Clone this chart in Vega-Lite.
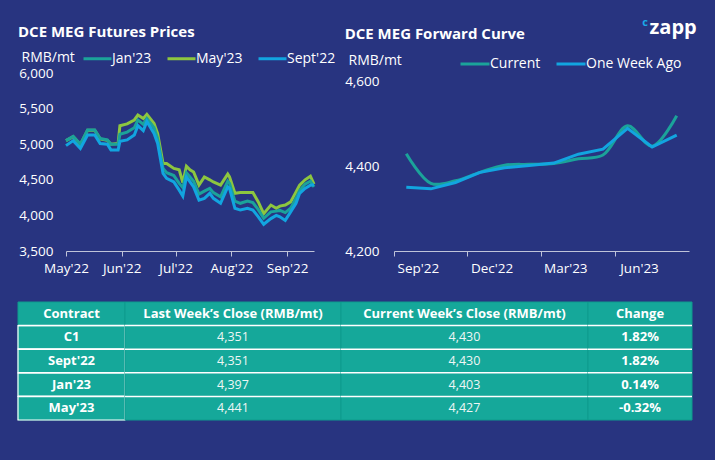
{
"$schema":"https://vega.github.io/schema/vega-lite/v6.json",
"background":"#283480",
"padding":{"left":17,"top":17,"right":20,"bottom":41},
"title":{"text":"zapp","anchor":"end","color":"#FFFFFF","fontSize":20,"fontWeight":"bold","dx":4,"offset":-21},
"datasets":{
"futures":[
{"d":"2022/05/01","s":"Sept'22","v":4980},{"d":"2022/05/01","s":"Jan'23","v":5050},{"d":"2022/05/01","s":"May'23","v":5050},
{"d":"2022/05/05","s":"Sept'22","v":5050},{"d":"2022/05/05","s":"Jan'23","v":5110},{"d":"2022/05/05","s":"May'23","v":5105},
{"d":"2022/05/09","s":"Sept'22","v":4940},{"d":"2022/05/09","s":"Jan'23","v":5000},{"d":"2022/05/09","s":"May'23","v":4995},
{"d":"2022/05/13","s":"Sept'22","v":5130},{"d":"2022/05/13","s":"Jan'23","v":5200},{"d":"2022/05/13","s":"May'23","v":5195},
{"d":"2022/05/17","s":"Sept'22","v":5130},{"d":"2022/05/17","s":"Jan'23","v":5200},{"d":"2022/05/17","s":"May'23","v":5195},
{"d":"2022/05/20","s":"Sept'22","v":5010},{"d":"2022/05/20","s":"Jan'23","v":5080},{"d":"2022/05/20","s":"May'23","v":5075},
{"d":"2022/05/24","s":"Sept'22","v":5000},{"d":"2022/05/24","s":"Jan'23","v":5060},{"d":"2022/05/24","s":"May'23","v":5055},
{"d":"2022/05/26","s":"Sept'22","v":4920},{"d":"2022/05/26","s":"Jan'23","v":5000},{"d":"2022/05/26","s":"May'23","v":5000},
{"d":"2022/05/30","s":"Sept'22","v":4920},{"d":"2022/05/30","s":"Jan'23","v":5000},{"d":"2022/05/30","s":"May'23","v":5010},
{"d":"2022/05/31","s":"Sept'22","v":5040},{"d":"2022/05/31","s":"Jan'23","v":5140},{"d":"2022/05/31","s":"May'23","v":5260},
{"d":"2022/06/04","s":"Sept'22","v":5060},{"d":"2022/06/04","s":"Jan'23","v":5170},{"d":"2022/06/04","s":"May'23","v":5285},
{"d":"2022/06/08","s":"Sept'22","v":5130},{"d":"2022/06/08","s":"Jan'23","v":5230},{"d":"2022/06/08","s":"May'23","v":5340},
{"d":"2022/06/10","s":"Sept'22","v":5260},{"d":"2022/06/10","s":"Jan'23","v":5340},{"d":"2022/06/10","s":"May'23","v":5410},
{"d":"2022/06/13","s":"Sept'22","v":5190},{"d":"2022/06/13","s":"Jan'23","v":5280},{"d":"2022/06/13","s":"May'23","v":5360},
{"d":"2022/06/15","s":"Sept'22","v":5320},{"d":"2022/06/15","s":"Jan'23","v":5360},{"d":"2022/06/15","s":"May'23","v":5420},
{"d":"2022/06/19","s":"Sept'22","v":5150},{"d":"2022/06/19","s":"Jan'23","v":5230},{"d":"2022/06/19","s":"May'23","v":5290},
{"d":"2022/06/21","s":"Sept'22","v":5010},{"d":"2022/06/21","s":"Jan'23","v":5080},{"d":"2022/06/21","s":"May'23","v":5150},
{"d":"2022/06/24","s":"Sept'22","v":4590},{"d":"2022/06/24","s":"Jan'23","v":4660},{"d":"2022/06/24","s":"May'23","v":4730},
{"d":"2022/06/26","s":"Sept'22","v":4520},{"d":"2022/06/26","s":"Jan'23","v":4600},{"d":"2022/06/26","s":"May'23","v":4730},
{"d":"2022/06/30","s":"Sept'22","v":4470},{"d":"2022/06/30","s":"Jan'23","v":4560},{"d":"2022/06/30","s":"May'23","v":4660},
{"d":"2022/07/03","s":"Sept'22","v":4355},{"d":"2022/07/03","s":"Jan'23","v":4450},{"d":"2022/07/03","s":"May'23","v":4640},
{"d":"2022/07/05","s":"Sept'22","v":4270},{"d":"2022/07/05","s":"Jan'23","v":4390},{"d":"2022/07/05","s":"May'23","v":4460},
{"d":"2022/07/07","s":"Sept'22","v":4540},{"d":"2022/07/07","s":"Jan'23","v":4600},{"d":"2022/07/07","s":"May'23","v":4690},
{"d":"2022/07/09","s":"Sept'22","v":4470},{"d":"2022/07/09","s":"Jan'23","v":4540},{"d":"2022/07/09","s":"May'23","v":4640},
{"d":"2022/07/11","s":"Sept'22","v":4400},{"d":"2022/07/11","s":"Jan'23","v":4480},{"d":"2022/07/11","s":"May'23","v":4610},
{"d":"2022/07/14","s":"Sept'22","v":4215},{"d":"2022/07/14","s":"Jan'23","v":4300},{"d":"2022/07/14","s":"May'23","v":4425},
{"d":"2022/07/17","s":"Sept'22","v":4240},{"d":"2022/07/17","s":"Jan'23","v":4340},{"d":"2022/07/17","s":"May'23","v":4540},
{"d":"2022/07/20","s":"Sept'22","v":4310},{"d":"2022/07/20","s":"Jan'23","v":4380},{"d":"2022/07/20","s":"May'23","v":4500},
{"d":"2022/07/22","s":"Sept'22","v":4240},{"d":"2022/07/22","s":"Jan'23","v":4320},{"d":"2022/07/22","s":"May'23","v":4470},
{"d":"2022/07/26","s":"Sept'22","v":4170},{"d":"2022/07/26","s":"Jan'23","v":4260},{"d":"2022/07/26","s":"May'23","v":4425},
{"d":"2022/07/30","s":"Sept'22","v":4400},{"d":"2022/07/30","s":"Jan'23","v":4480},{"d":"2022/07/30","s":"May'23","v":4580},
{"d":"2022/07/31","s":"Sept'22","v":4380},{"d":"2022/07/31","s":"Jan'23","v":4450},{"d":"2022/07/31","s":"May'23","v":4540},
{"d":"2022/08/03","s":"Sept'22","v":4100},{"d":"2022/08/03","s":"Jan'23","v":4200},{"d":"2022/08/03","s":"May'23","v":4310},
{"d":"2022/08/06","s":"Sept'22","v":4075},{"d":"2022/08/06","s":"Jan'23","v":4170},{"d":"2022/08/06","s":"May'23","v":4320},
{"d":"2022/08/10","s":"Sept'22","v":4100},{"d":"2022/08/10","s":"Jan'23","v":4200},{"d":"2022/08/10","s":"May'23","v":4320},
{"d":"2022/08/13","s":"Sept'22","v":4075},{"d":"2022/08/13","s":"Jan'23","v":4180},{"d":"2022/08/13","s":"May'23","v":4320},
{"d":"2022/08/16","s":"Sept'22","v":3980},{"d":"2022/08/16","s":"Jan'23","v":4080},{"d":"2022/08/16","s":"May'23","v":4190},
{"d":"2022/08/19","s":"Sept'22","v":3875},{"d":"2022/08/19","s":"Jan'23","v":3960},{"d":"2022/08/19","s":"May'23","v":4025},
{"d":"2022/08/23","s":"Sept'22","v":3955},{"d":"2022/08/23","s":"Jan'23","v":4050},{"d":"2022/08/23","s":"May'23","v":4145},
{"d":"2022/08/26","s":"Sept'22","v":4000},{"d":"2022/08/26","s":"Jan'23","v":4060},{"d":"2022/08/26","s":"May'23","v":4100},
{"d":"2022/08/28","s":"Sept'22","v":3980},{"d":"2022/08/28","s":"Jan'23","v":4070},{"d":"2022/08/28","s":"May'23","v":4130},
{"d":"2022/08/31","s":"Sept'22","v":3930},{"d":"2022/08/31","s":"Jan'23","v":4040},{"d":"2022/08/31","s":"May'23","v":4145},
{"d":"2022/09/03","s":"Sept'22","v":4050},{"d":"2022/09/03","s":"Jan'23","v":4100},{"d":"2022/09/03","s":"May'23","v":4190},
{"d":"2022/09/06","s":"Sept'22","v":4170},{"d":"2022/09/06","s":"Jan'23","v":4240},{"d":"2022/09/06","s":"May'23","v":4330},
{"d":"2022/09/08","s":"Sept'22","v":4310},{"d":"2022/09/08","s":"Jan'23","v":4350},{"d":"2022/09/08","s":"May'23","v":4425},
{"d":"2022/09/11","s":"Sept'22","v":4380},{"d":"2022/09/11","s":"Jan'23","v":4440},{"d":"2022/09/11","s":"May'23","v":4500},
{"d":"2022/09/14","s":"Sept'22","v":4425},{"d":"2022/09/14","s":"Jan'23","v":4480},{"d":"2022/09/14","s":"May'23","v":4550},
{"d":"2022/09/16","s":"Sept'22","v":4430},{"d":"2022/09/16","s":"Jan'23","v":4400},{"d":"2022/09/16","s":"May'23","v":4440}
],
"curve":[
{"m":"Sep'22","s":"Current","v":4430},{"m":"Oct'22","s":"Current","v":4360},{"m":"Nov'22","s":"Current","v":4366},{"m":"Dec'22","s":"Current","v":4386},
{"m":"Jan'23","s":"Current","v":4403},{"m":"Feb'23","s":"Current","v":4405},{"m":"Mar'23","s":"Current","v":4407},{"m":"Apr'23","s":"Current","v":4418},
{"m":"May'23","s":"Current","v":4427},{"m":"Jun'23","s":"Current","v":4496},{"m":"Jul'23","s":"Current","v":4448},{"m":"Aug'23","s":"Current","v":4520},
{"m":"Sep'22","s":"One Week Ago","v":4351},{"m":"Oct'22","s":"One Week Ago","v":4347},{"m":"Nov'22","s":"One Week Ago","v":4362},{"m":"Dec'22","s":"One Week Ago","v":4386},
{"m":"Jan'23","s":"One Week Ago","v":4397},{"m":"Feb'23","s":"One Week Ago","v":4402},{"m":"Mar'23","s":"One Week Ago","v":4408},{"m":"Apr'23","s":"One Week Ago","v":4429},
{"m":"May'23","s":"One Week Ago","v":4441},{"m":"Jun'23","s":"One Week Ago","v":4490},{"m":"Jul'23","s":"One Week Ago","v":4446},{"m":"Aug'23","s":"One Week Ago","v":4474}
],
"table":[
{"contract":"Contract","last":"Last Week’s Close (RMB/mt)","current":"Current Week’s Close (RMB/mt)","change":"Change"},
{"contract":"C1","last":"4,351","current":"4,430","change":"1.82%"},
{"contract":"Sept'22","last":"4,351","current":"4,430","change":"1.82%"},
{"contract":"Jan'23","last":"4,397","current":"4,403","change":"0.14%"},
{"contract":"May'23","last":"4,441","current":"4,427","change":"-0.32%"}
]
},
"spacing":26,
"vconcat":[
{
"hconcat":[
{
"width":296,"height":178,
"title":{"text":"DCE MEG Futures Prices","offset":3},
"data":{"name":"futures"},
"encoding":{
"x":{"field":"d","type":"temporal","scale":{"domain":[{"year":2022,"month":5,"date":1},{"year":2022,"month":9,"date":16}],"nice":false,"range":[48,296]},
"axis":{"values":[{"year":2022,"month":5,"date":1},{"year":2022,"month":6,"date":1},{"year":2022,"month":7,"date":1},{"year":2022,"month":8,"date":1},{"year":2022,"month":9,"date":1}],"format":"%b'%y","title":null,"tickSize":5,"labelPadding":5,"labelOverlap":false,"labelFlush":false,"labelBound":false}},
"y":{"field":"v","type":"quantitative","scale":{"domain":[3500,6000],"nice":false,"zero":false},
"axis":{"values":[3500,4000,4500,5000,5500,6000],"format":",d","domain":false,"ticks":false,"tickSize":0,"labelPadding":13,"offset":-48,"title":"RMB/mt","titleAngle":0,"titleAlign":"left","titleBaseline":"middle","titleX":-45,"titleY":-16}},
"color":{"field":"s","type":"nominal","scale":{"domain":["Jan'23","May'23","Sept'22"],"range":["#1BA39A","#8DC63F","#12A5E0"]},
"legend":{"orient":"none","legendX":64,"legendY":-30,"direction":"horizontal","title":null,"symbolType":"stroke","symbolSize":784,"symbolStrokeWidth":3,"labelOffset":-1,"columnPadding":9,"padding":0}}
},
"layer":[
{"transform":[{"filter":"datum.s == 'May\\'23'"}],"mark":{"type":"line","strokeWidth":3}},
{"transform":[{"filter":"datum.s == 'Jan\\'23'"}],"mark":{"type":"line","strokeWidth":3}},
{"transform":[{"filter":"datum.s == 'Sept\\'22'"}],"mark":{"type":"line","strokeWidth":3}}
]
},
{
"width":295,"height":178,
"title":{"text":"DCE MEG Forward Curve","offset":6},
"data":{"name":"curve"},
"encoding":{
"x":{"field":"m","type":"ordinal","sort":null,"bandPosition":0.5,
"scale":{"type":"band","domain":["Sep'22","Oct'22","Nov'22","Dec'22","Jan'23","Feb'23","Mar'23","Apr'23","May'23","Jun'23","Jul'23","Aug'23"],"paddingInner":0,"paddingOuter":0},
"axis":{"values":["Sep'22","Dec'22","Mar'23","Jun'23"],"bandPosition":0,"labelOffset":12,"labelAngle":0,"title":null,"tickSize":5,"labelPadding":5}},
"y":{"field":"v","type":"quantitative","scale":{"domain":[4200,4621],"nice":false,"zero":false},
"axis":{"values":[4200,4400,4600],"format":",d","domain":false,"ticks":false,"tickSize":0,"labelPadding":15,"title":"RMB/mt","titleAngle":0,"titleAlign":"left","titleBaseline":"middle","titleX":-46,"titleY":-13}},
"color":{"field":"s","type":"nominal","scale":{"domain":["Current","One Week Ago"],"range":["#1BA39A","#12A5E0"]},
"legend":{"orient":"none","legendX":65,"legendY":-25,"direction":"horizontal","title":null,"symbolType":"stroke","symbolSize":841,"symbolStrokeWidth":3,"labelOffset":-1,"columnPadding":9,"padding":0}}
},
"layer":[
{"transform":[{"filter":"datum.s == 'Current'"}],"mark":{"type":"line","strokeWidth":3,"interpolate":"catmull-rom"}},
{"transform":[{"filter":"datum.s == 'One Week Ago'"}],"mark":{"type":"line","strokeWidth":3}}
]
}
],
"spacing":80,
"bounds":"flush",
"resolve":{"scale":{"color":"independent"},"legend":{"color":"independent"}},
"title":{"text":"c","anchor":"end","color":"#1AA8E8","fontSize":11,"fontWeight":"bold","dx":-41,"offset":-3}
},
{
"hconcat":[
{
"width":107,"height":118,
"data":{"name":"table"},
"encoding":{"y":{"field":"contract","type":"nominal","sort":null,"axis":null,"scale":{"domain":["Contract","C1","Sept'22","Jan'23","May'23"],"paddingInner":0,"paddingOuter":0}}},
"layer":[
{"mark":{"type":"rect","fill":"#15A89A","stroke":"#0F9A8D","strokeWidth":1}},
{"transform":[{"filter":"datum.contract != 'Contract'"}],"mark":{"type":"rect","fill":"#15A89A","stroke":"#FFFFFF","strokeWidth":1.2}},
{"transform":[{"filter":"datum.contract != 'Contract'"}],"mark":{"type":"rule","color":"#FFFFFF","strokeWidth":1.5},"encoding":{"y":{"field":"contract","type":"nominal","sort":null,"bandPosition":0}}},
{"mark":{"type":"text","color":"#FFFFFF","fontWeight":"bold","fontSize":13},"encoding":{"text":{"field":"contract"}}}
]
},
{
"width":216,"height":118,
"data":{"name":"table"},
"encoding":{"y":{"field":"contract","type":"nominal","sort":null,"axis":null,"scale":{"domain":["Contract","C1","Sept'22","Jan'23","May'23"],"paddingInner":0,"paddingOuter":0}}},
"layer":[
{"mark":{"type":"rect","fill":"#15A89A","stroke":"#0F9A8D","strokeWidth":1}},
{"transform":[{"filter":"datum.contract != 'Contract'"}],"mark":{"type":"rule","color":"#FFFFFF","strokeWidth":1.5},"encoding":{"y":{"field":"contract","type":"nominal","sort":null,"bandPosition":0}}},
{"transform":[{"filter":"datum.contract == 'Contract'"}],"mark":{"type":"text","color":"#FFFFFF","fontWeight":"bold","fontSize":13},"encoding":{"text":{"field":"last"}}},
{"transform":[{"filter":"datum.contract != 'Contract'"}],"mark":{"type":"text","color":"#EEF6F5","fontSize":12.5},"encoding":{"text":{"field":"last"}}}
]
},
{
"width":247,"height":118,
"data":{"name":"table"},
"encoding":{"y":{"field":"contract","type":"nominal","sort":null,"axis":null,"scale":{"domain":["Contract","C1","Sept'22","Jan'23","May'23"],"paddingInner":0,"paddingOuter":0}}},
"layer":[
{"mark":{"type":"rect","fill":"#15A89A","stroke":"#0F9A8D","strokeWidth":1}},
{"transform":[{"filter":"datum.contract != 'Contract'"}],"mark":{"type":"rule","color":"#FFFFFF","strokeWidth":1.5},"encoding":{"y":{"field":"contract","type":"nominal","sort":null,"bandPosition":0}}},
{"transform":[{"filter":"datum.contract == 'Contract'"}],"mark":{"type":"text","color":"#FFFFFF","fontWeight":"bold","fontSize":13},"encoding":{"text":{"field":"current"}}},
{"transform":[{"filter":"datum.contract != 'Contract'"}],"mark":{"type":"text","color":"#EEF6F5","fontSize":12.5},"encoding":{"text":{"field":"current"}}}
]
},
{
"width":104,"height":118,
"data":{"name":"table"},
"encoding":{"y":{"field":"contract","type":"nominal","sort":null,"axis":null,"scale":{"domain":["Contract","C1","Sept'22","Jan'23","May'23"],"paddingInner":0,"paddingOuter":0}}},
"layer":[
{"mark":{"type":"rect","fill":"#15A89A","stroke":"#0F9A8D","strokeWidth":1}},
{"transform":[{"filter":"datum.contract != 'Contract'"}],"mark":{"type":"rule","color":"#FFFFFF","strokeWidth":1.5},"encoding":{"y":{"field":"contract","type":"nominal","sort":null,"bandPosition":0}}},
{"mark":{"type":"text","color":"#FFFFFF","fontWeight":"bold","fontSize":13},"encoding":{"text":{"field":"change"}}}
]
}
],
"spacing":0,
"bounds":"flush"
}
],
"config":{
"font":"Open Sans",
"view":{"stroke":null},
"axis":{"labelColor":"#FFFFFF","labelFontSize":13.5,"labelFont":"Open Sans","titleColor":"#FFFFFF","titleFont":"Open Sans","titleFontWeight":"normal","titleFontSize":14,"grid":false,"domainColor":"#BFC3D9","tickColor":"#BFC3D9"},
"legend":{"labelColor":"#FFFFFF","labelFontSize":14,"labelFont":"Open Sans"},
"title":{"color":"#FFFFFF","fontSize":15,"fontWeight":"bold","font":"Open Sans","anchor":"start"},
"text":{"font":"Open Sans"}
}
}
